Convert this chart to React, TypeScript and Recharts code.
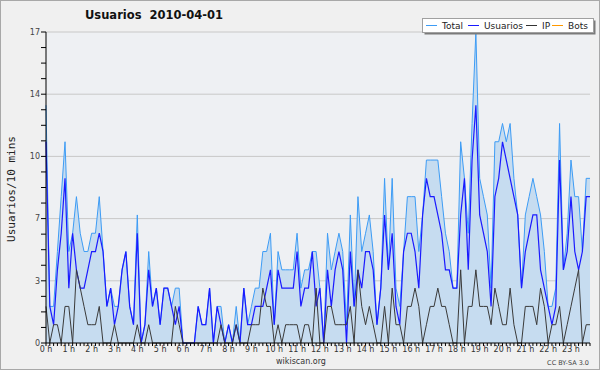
import { ComposedChart, Area, Line, XAxis, YAxis, CartesianGrid } from 'recharts'

// one value every 10 minutes, 144 per series
const TOTAL = [
  13, 2, 2, 5, 8, 11, 5, 6, 8, 6, 5, 5,
  6, 6, 8, 5, 2, 3, 2, 2, 4, 5, 2, 1,
  7, 0, 1, 5, 2, 3, 1, 3, 3, 2, 3, 3,
  0, 0, 0, 0, 2, 1, 1, 3, 0, 2, 2, 0,
  1, 0, 2, 0, 3, 1, 2, 3, 3, 5, 5, 6,
  1, 5, 4, 4, 4, 4, 6, 3, 4, 4, 5, 5,
  3, 0, 6, 4, 5, 6, 5, 1, 7, 2, 8, 5,
  6, 7, 5, 1, 3, 9, 4, 9, 3, 2, 5, 8,
  8, 8, 5, 7, 10, 10, 10, 10, 8, 6, 5, 3,
  3, 11, 9, 6, 12, 17, 9, 8, 7, 3, 11, 11,
  12, 11, 12, 9, 7, 3, 7, 8, 9, 8, 7, 5,
  2, 2, 3, 12, 4, 6, 10, 8, 8, 5, 9, 9,
]

const USUARIOS = [
  11, 2, 1, 4, 6, 9, 3, 6, 4, 3, 3, 4,
  5, 5, 6, 5, 2, 3, 1, 2, 4, 5, 2, 1,
  6, 0, 1, 4, 2, 3, 1, 3, 3, 2, 1, 2,
  0, 0, 0, 0, 2, 1, 1, 3, 0, 2, 1, 0,
  1, 0, 1, 0, 3, 1, 1, 2, 2, 2, 3, 4,
  1, 4, 3, 3, 3, 3, 5, 2, 3, 3, 5, 2,
  3, 0, 4, 2, 4, 5, 4, 0, 5, 2, 4, 3,
  5, 5, 4, 1, 3, 7, 4, 6, 2, 1, 5, 6,
  6, 5, 3, 7, 9, 8, 8, 7, 6, 4, 4, 3,
  3, 7, 9, 4, 10, 13, 7, 6, 5, 2, 8, 9,
  11, 10, 9, 8, 7, 3, 5, 6, 7, 7, 4, 3,
  2, 1, 2, 10, 4, 5, 8, 5, 4, 5, 8, 8,
]

const IP = [
  2, 0, 1, 1, 0, 2, 2, 0, 4, 3, 2, 1,
  1, 1, 2, 0, 0, 0, 1, 0, 0, 0, 0, 0,
  1, 0, 0, 1, 0, 0, 0, 0, 0, 0, 2, 1,
  0, 0, 0, 0, 0, 0, 0, 0, 0, 0, 1, 0,
  0, 0, 1, 0, 0, 0, 1, 1, 1, 3, 2, 2,
  0, 1, 0, 1, 1, 1, 1, 0, 1, 1, 0, 3,
  0, 0, 2, 2, 1, 1, 1, 1, 2, 0, 4, 2,
  1, 2, 1, 0, 0, 2, 0, 3, 1, 1, 0, 2,
  2, 3, 2, 0, 1, 2, 2, 3, 2, 2, 1, 0,
  0, 4, 0, 2, 2, 4, 2, 2, 2, 1, 3, 2,
  1, 1, 3, 1, 0, 0, 2, 2, 2, 1, 3, 2,
  0, 1, 1, 2, 0, 1, 2, 3, 4, 0, 1, 1,
]

const HOURS = [
  '0 h', '1 h', '2 h', '3 h', '4 h', '5 h', '6 h', '7 h', '8 h', '9 h', '10 h', '11 h',
  '12 h', '13 h', '14 h', '15 h', '16 h', '17 h', '18 h', '19 h', '20 h', '21 h', '22 h', '23 h',
]

const Y_MAX = 17
const Y_LABELS = ['0', '3', '7', '10', '14', '17']

const LEGEND_NAMES = ['Total', 'Usuarios', 'IP', 'Bots']
const LEGEND_COLORS = ['#3d9cf5', '#1a1aff', '#333333', '#ff9900']
// x where each legend entry starts, inside the legend box
const LEGEND_X = [4, 46, 104, 130]

const data = TOTAL.map((t, i) => ({ i, total: t, usuarios: USUARIOS[i], ip: IP[i] }))

const xTicks = data.map((d) => d.i)
// 5 labelled steps, 4 small ticks per step
const yStep = Y_MAX / 20
const yTicks = Array.from({ length: 21 }, (_, k) => +(k * yStep).toFixed(3))
const yGrid = Y_LABELS.map((_, k) => +(k * yStep * 4).toFixed(3)).slice(1)

const font = '"DejaVu Sans", sans-serif'

function LegendBox() {
  return (
    <svg
      width={176}
      height={19}
      style={{ position: 'absolute', left: 421, top: 17 }}
    >
      <rect x={2.5} y={2.5} width={171} height={14} fill="#7a7a7a" />
      <rect x={0.5} y={0.5} width={171} height={14} fill="#fff" stroke="#a0a0a0" />
      {LEGEND_NAMES.map((name, k) => (
        <g key={name}>
          <line
            x1={LEGEND_X[k]} x2={LEGEND_X[k] + 11} y1={7.5} y2={7.5}
            stroke={LEGEND_COLORS[k]} strokeWidth={1}
          />
          <text
            x={LEGEND_X[k] + 16} y={11} fontSize={9} fill="#222" fontFamily={font}
          >
            {name}
          </text>
        </g>
      ))}
    </svg>
  )
}

export default function App() {
  return (
    <div
      style={{
        position: 'absolute', left: 0, top: 0, width: 600, height: 370,
        background: '#f0f0f0', border: '1px solid #a8a8a8', boxSizing: 'border-box',
        fontFamily: font,
      }}
    >
      <div
        style={{
          position: 'absolute', left: 84, top: 7, fontSize: 11.5, fontWeight: 'bold',
          color: '#111', whiteSpace: 'pre',
        }}
      >
        {'Usuarios  2010-04-01'}
      </div>

      <div
        style={{
          position: 'absolute', left: 10, top: 188, transform: 'translate(-50%, -50%) rotate(-90deg)',
          fontFamily: '"DejaVu Sans Mono", monospace', fontSize: 11, color: '#222', whiteSpace: 'pre',
        }}
      >
        Usuarios/10 mins
      </div>

      <ComposedChart
        width={598}
        height={368}
        data={data}
        margin={{ top: 31, right: 9, bottom: 12, left: 5 }}
        style={{ position: 'absolute', left: 0, top: 0 }}
      >
        <CartesianGrid
          vertical={false}
          horizontalValues={yGrid}
          stroke="#c8c8c8"
          fill="#eef0f3"
          fillOpacity={1}
        />
        <XAxis
          type="number"
          dataKey="i"
          domain={[0, TOTAL.length - 1]}
          ticks={xTicks}
          interval={0}
          tickFormatter={(v: number) => (v % 6 === 0 ? HOURS[v / 6] : '')}
          tickSize={3}
          tickMargin={0}
          height={14}
          axisLine={{ stroke: '#000' }}
          tickLine={{ stroke: '#000' }}
          tick={{ fontSize: 8, fill: '#333', fontFamily: font }}
        />
        <YAxis
          type="number"
          domain={[0, Y_MAX]}
          ticks={yTicks}
          interval={0}
          tickFormatter={(v: number) => {
            const k = Math.round(v / yStep)
            return k % 4 === 0 ? Y_LABELS[k / 4] : ''
          }}
          width={40}
          tickSize={5}
          tickMargin={1}
          axisLine={{ stroke: '#000' }}
          tickLine={{ stroke: '#000' }}
          tick={{ fontSize: 8, fill: '#444', fontFamily: font }}
        />
        <Area
          type="linear"
          dataKey="total"
          stroke="#3d9cf5"
          strokeWidth={1}
          fill="#c6dcf0"
          fillOpacity={1}
          dot={false}
          activeDot={false}
          isAnimationActive={false}
        />
        <Line
          type="linear"
          dataKey="usuarios"
          stroke="#1a1aff"
          strokeWidth={1.2}
          dot={false}
          activeDot={false}
          isAnimationActive={false}
        />
        <Line
          type="linear"
          dataKey="ip"
          stroke="#3a3a3a"
          strokeWidth={1}
          dot={false}
          activeDot={false}
          isAnimationActive={false}
        />
      </ComposedChart>

      <LegendBox />

      <div
        style={{
          position: 'absolute', left: 0, width: 600, top: 356, textAlign: 'center',
          fontSize: 8, color: '#333',
        }}
      >
        wikiscan.org
      </div>
      <div style={{ position: 'absolute', right: 10, top: 358, fontSize: 6.5, color: '#444' }}>
        CC BY-SA 3.0
      </div>
    </div>
  )
}
